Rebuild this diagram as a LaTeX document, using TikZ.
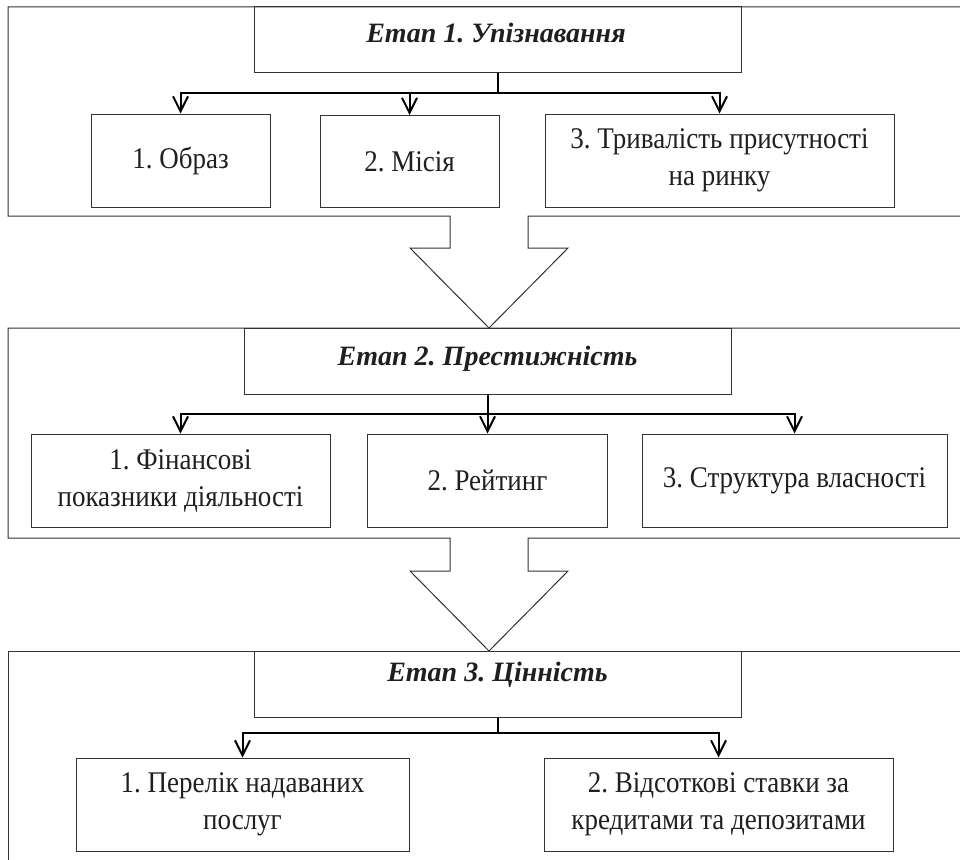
\documentclass[tikz,border=0pt]{standalone}
\usepackage{fontspec}
\setmainfont{Liberation Serif}
\newfontfamily\bodyface{Liberation Serif}[FakeStretch=0.9]
\usetikzlibrary{arrows.meta}
\frenchspacing
\newcommand\bodyfnt{\bodyface\fontsize{30}{37}\selectfont\color{black!88}}
\newcommand\titlefnt{\fontsize{28}{37}\selectfont\bfseries\itshape\color{black!88}}
\begin{document}
\frenchspacing
\begin{tikzpicture}[x=1pt,y=-1pt,
  frame/.style={draw=black!80, line width=1pt, line join=miter},
  box/.style={draw=black!80, line width=1pt, inner sep=0pt, align=center, font=\bodyfnt, minimum height=93pt},
  titlebox/.style={draw=black!80, line width=1pt, inner sep=0pt},
  ttext/.style={font=\titlefnt, anchor=base, inner sep=0pt},
  conn/.style={line width=2pt, draw=black},
  arr/.style={conn, -{Straight Barb[length=15pt,width=15pt]}}]
\useasboundingbox (0,0) rectangle (960,859);
\clip (0,0) rectangle (960,859);
\fill[white] (0,0) rectangle (960,859);

% frames with big arrows
\draw[frame] (965,7) -- (8,7) -- (8,216) -- (450,216) -- (450,248) -- (410,248) -- (489,328) -- (568,248) -- (528,248) -- (528,216) -- (965,216);
\draw[frame] (965,328) -- (8,328) -- (8,538) -- (450,538) -- (450,571) -- (410,571) -- (489,651) -- (568,571) -- (528,571) -- (528,538) -- (965,538);
\draw[frame] (965,651) -- (8,651) -- (8,865);

% stage 1
\node[titlebox, minimum width=487pt, minimum height=65pt] (t1) at (497.5,39.5) {};
\node[ttext] (t1l) at (496,42) {Етап 1. Упізнавання};
\node[box, minimum width=179pt] (b11) at (180.5,160.5) {1. Образ};
\node[box, minimum width=179pt, minimum height=92pt] (b12) at (409.5,161.5) {2. Місія};
\node[box, minimum width=349pt] (b13) at (719.5,160.5) {3. Тривалість присутності\\на ринку};
\coordinate (j1) at (497.5,93);
\draw[conn] (t1.south) -- (j1);
\draw[arr] (j1) -| (b11.north);
\draw[arr] (j1) -| (b12.north);
\draw[arr] (j1) -| (b13.north);

% stage 2
\node[titlebox, minimum width=487pt, minimum height=66pt] (t2) at (487.5,361) {};
\node[ttext] (t2l) at (487.5,365) {Етап 2. Престижність};
\node[box, minimum width=299pt] (b21) at (180.5,480.5) {1. Фінансові\\показники діяльності};
\node[box, minimum width=240pt] (b22) at (487.5,480.5) {2. Рейтинг};
\node[box, minimum width=305pt] (b23) at (794.5,480.5) {3. Структура власності};
\coordinate (j2) at (487.5,414);
\draw[conn] (t2.south) -- (j2);
\draw[arr] (j2) -| (b21.north);
\draw[arr] (j2) -- (b22.north);
\draw[arr] (j2) -| (b23.north);

% stage 3
\node[titlebox, minimum width=487pt, minimum height=66pt] (t3) at (497.5,684) {};
\node[ttext] (t3l) at (497.5,681) {Етап 3. Цінність};
\node[box, minimum width=333pt] (b31) at (242.5,804.5) {1. Перелік надаваних\\послуг};
\node[box, minimum width=349pt] (b32) at (718.5,804.5) {2. Відсоткові ставки за\\кредитами та депозитами};
\coordinate (j3) at (497.5,733);
\draw[conn] (t3.south) -- (j3);
\draw[arr] (j3) -| (b31.north);
\draw[arr] (j3) -| (b32.north);
\end{tikzpicture}
\end{document}
